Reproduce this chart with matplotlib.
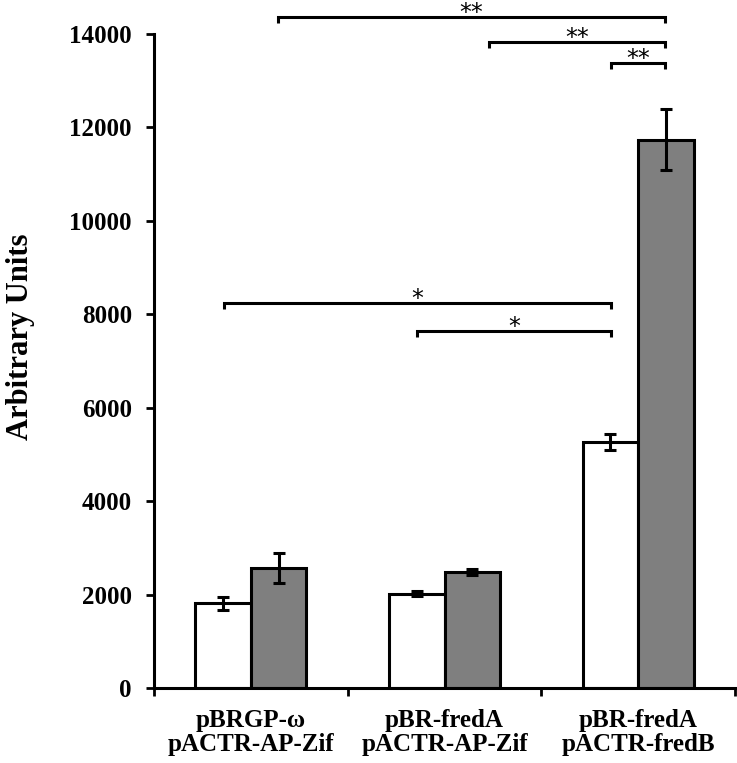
import matplotlib.pyplot as plt
import numpy as np

categories = ["pBRGP-ω\npACTR-AP-Zif", "pBR-fredA\npACTR-AP-Zif", "pBR-fredA\npACTR-fredB"]
white_vals = [1810, 2020, 5270]
white_err = [140, 50, 170]
gray_vals = [2570, 2480, 11740]
gray_err = [330, 70, 660]
yticks = [0, 2000, 4000, 6000, 8000, 10000, 12000, 14000]

# significance brackets, x in category units
br_start = [0.14, 1.23, 1.86, -0.14, 0.86]
br_end = [2.14, 2.14, 2.14, 1.86, 1.86]
br_height = [14355, 13830, 13380, 8240, 7640]
br_label = ["**", "**", "**", "*", "*"]

serif = "Liberation Serif"

fig = plt.figure(figsize=(7.37, 7.63), dpi=100)
ax = fig.add_axes([154 / 737, 75 / 763, 581 / 737, 654 / 763])

x = np.arange(len(categories))
w = 0.287
ax.bar(x - w / 2, white_vals, w, color="white", edgecolor="black", linewidth=2.2, zorder=2)
ax.bar(x + w / 2, gray_vals, w, color="#7f7f7f", edgecolor="black", linewidth=2.2, zorder=2)
ax.errorbar(x - w / 2, white_vals, yerr=white_err, fmt="none", ecolor="black",
            elinewidth=2.2, capsize=4, capthick=2.2, zorder=3)
ax.errorbar(x + w / 2, gray_vals, yerr=gray_err, fmt="none", ecolor="black",
            elinewidth=2.2, capsize=4, capthick=2.2, zorder=3)

drop = 130
for x1, x2, h, lab in zip(br_start, br_end, br_height, br_label):
    ax.plot([x1, x1, x2, x2], [h - drop, h, h, h - drop], color="black", lw=2.2,
            clip_on=False, solid_capstyle="butt", solid_joinstyle="miter")
    ax.annotate(lab, ((x1 + x2) / 2, h), xytext=(0, -2), textcoords="offset points",
                ha="center", va="baseline", fontsize=17, family="DejaVu Sans",
                annotation_clip=False)

ax.set_xlim(-0.5, 2.5)
ax.set_ylim(0, 14000)
ax.set_yticks(yticks)
ax.set_yticklabels([str(v) for v in yticks], fontsize=18, fontweight="bold", family=serif)
ax.set_xticks(x)
ax.set_xticklabels(categories, fontsize=18, fontweight="bold", family=serif, linespacing=1.05)
ax.set_xticks(np.arange(-0.5, 3, 1), minor=True)
ax.tick_params(axis="x", which="major", length=0, pad=15)
ax.tick_params(axis="x", which="minor", length=6, width=2, direction="out")
ax.tick_params(axis="y", length=6, width=2, direction="out", pad=10)

for s in ["top", "right"]:
    ax.spines[s].set_visible(False)
for s in ["left", "bottom"]:
    ax.spines[s].set_linewidth(2.2)

ax.set_ylabel("Arbitrary Units", fontsize=22, fontweight="bold", family=serif)
ax.yaxis.set_label_coords(-0.205, 0.537)

fig.savefig("out.png", dpi=100)
